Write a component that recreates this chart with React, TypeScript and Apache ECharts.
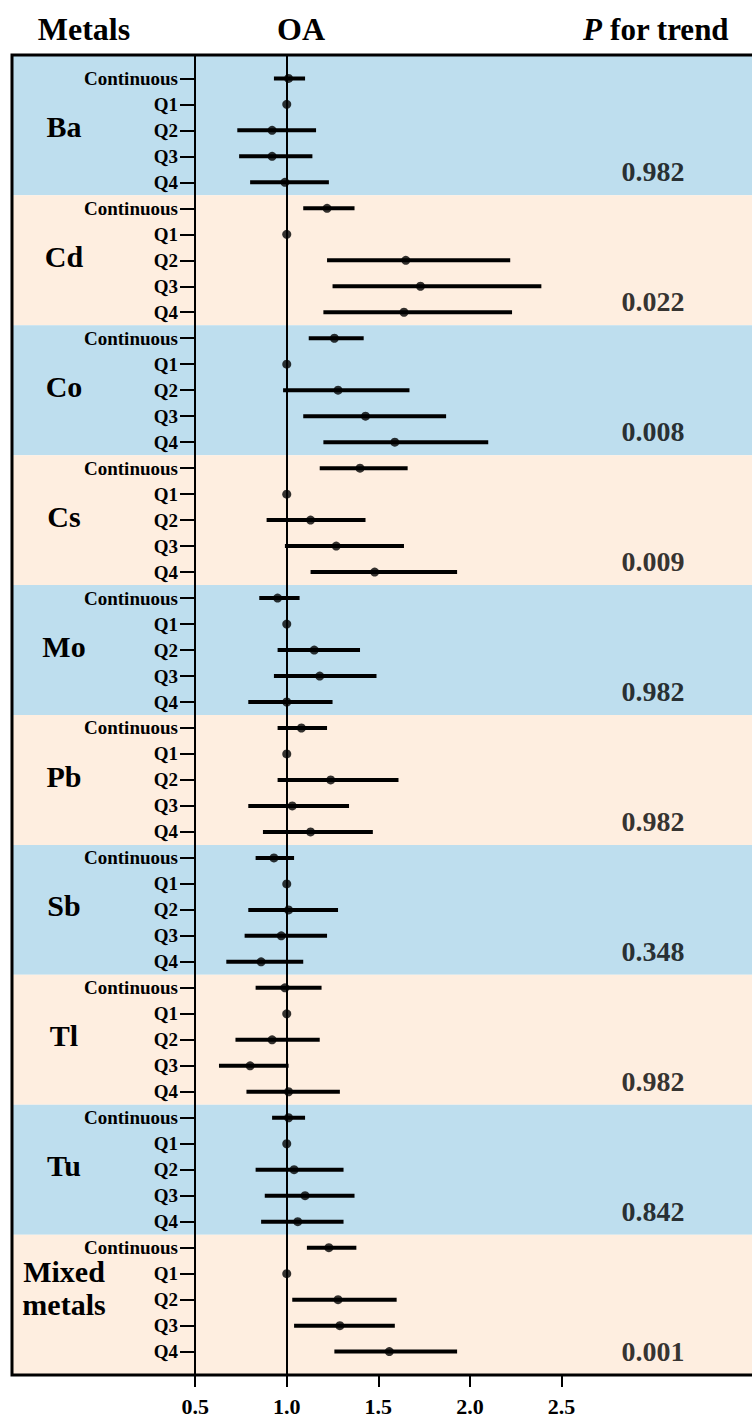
import React, { useEffect, useRef } from 'react';
import * as echarts from 'echarts';

const groups = ['Ba', 'Cd', 'Co', 'Cs', 'Mo', 'Pb', 'Sb', 'Tl', 'Tu', 'Mixed\nmetals'];
const levels = ['Continuous', 'Q1', 'Q2', 'Q3', 'Q4'];

const estimates = [
  [1.01, 1.0, 0.92, 0.92, 0.99],
  [1.22, 1.0, 1.65, 1.73, 1.64],
  [1.26, 1.0, 1.28, 1.43, 1.59],
  [1.40, 1.0, 1.13, 1.27, 1.48],
  [0.95, 1.0, 1.15, 1.18, 1.0],
  [1.08, 1.0, 1.24, 1.03, 1.13],
  [0.93, 1.0, 1.01, 0.97, 0.86],
  [0.99, 1.0, 0.92, 0.80, 1.01],
  [1.01, 1.0, 1.04, 1.10, 1.06],
  [1.23, 1.0, 1.28, 1.29, 1.56],
];
const lowerCI = [
  [0.93, 1.0, 0.73, 0.74, 0.80],
  [1.09, 1.0, 1.22, 1.25, 1.20],
  [1.12, 1.0, 0.98, 1.09, 1.20],
  [1.18, 1.0, 0.89, 0.99, 1.13],
  [0.85, 1.0, 0.95, 0.93, 0.79],
  [0.95, 1.0, 0.95, 0.79, 0.87],
  [0.83, 1.0, 0.79, 0.77, 0.67],
  [0.83, 1.0, 0.72, 0.63, 0.78],
  [0.92, 1.0, 0.83, 0.88, 0.86],
  [1.11, 1.0, 1.03, 1.04, 1.26],
];
const upperCI = [
  [1.10, 1.0, 1.16, 1.14, 1.23],
  [1.37, 1.0, 2.22, 2.39, 2.23],
  [1.42, 1.0, 1.67, 1.87, 2.10],
  [1.66, 1.0, 1.43, 1.64, 1.93],
  [1.07, 1.0, 1.40, 1.49, 1.25],
  [1.22, 1.0, 1.61, 1.34, 1.47],
  [1.04, 1.0, 1.28, 1.22, 1.09],
  [1.19, 1.0, 1.18, 1.01, 1.29],
  [1.10, 1.0, 1.31, 1.37, 1.31],
  [1.38, 1.0, 1.60, 1.59, 1.93],
];
const pTrend = ['0.982', '0.022', '0.008', '0.009', '0.982', '0.982', '0.348', '0.982', '0.842', '0.001'];
const xTicks = [0.5, 1.0, 1.5, 2.0, 2.5];

// layout constants
const Y_MIN = -0.9;
const Y_MAX = 49.9;
const P_X = 3.0;
const FONT = '"Liberation Serif", "Times New Roman", serif';
const BLUE = '#BEDEEE';
const PEACH = '#FEEEE0';

export default function App() {
  const ref = useRef<HTMLDivElement>(null);
  useEffect(() => {
    if (!ref.current) return;
    const chart = echarts.init(ref.current, undefined, { renderer: 'svg' });
    const nLev = levels.length;
    const rowPos: number[] = [];
    const ciData: number[][] = [];
    const estData: number[][] = [];
    groups.forEach((g, gi) => {
      levels.forEach((l, li) => {
        const r = gi * nLev + li;
        rowPos.push(r);
        ciData.push([lowerCI[gi][li], upperCI[gi][li], r]);
        estData.push([estimates[gi][li], r]);
      });
    });
    const groupLabelRows = groups.map((g, gi) => (gi === groups.length - 1 ? gi * nLev + 1.55 : gi * nLev + 1.85));
    const pData = groups.map((g, gi) => [P_X, gi * nLev + (gi === groups.length - 1 ? 4.0 : 3.6)]);
    const bands = groups.map((g, gi) => [
      { yAxis: gi === 0 ? Y_MIN : gi * nLev - 0.5, itemStyle: { color: gi % 2 === 0 ? BLUE : PEACH } },
      { yAxis: gi === groups.length - 1 ? Y_MAX : gi * nLev + nLev - 0.5 },
    ]);

    const option: any = {
      animation: false,
      grid: { left: 12, right: 0, top: 55, bottom: 43, containLabel: false },
      xAxis: {
        type: 'value',
        z: 10,
        min: -0.5,
        max: 3.54,
        position: 'bottom',
        axisLine: { show: false, onZero: false },
        axisTick: { show: true, customValues: xTicks, length: 12, lineStyle: { color: '#000', width: 2 } },
        axisLabel: {
          customValues: xTicks,
          formatter: (v: number) => v.toFixed(1),
          margin: 20,
          fontSize: 22,
          fontWeight: 'bold',
          fontFamily: FONT,
          color: '#000',
        },
        splitLine: { show: false },
      },
      yAxis: [
        {
          type: 'value',
          z: 10,
          inverse: true,
          min: Y_MIN,
          max: Y_MAX,
          position: 'left',
          offset: -183,
          axisLine: { show: true, onZero: false, lineStyle: { color: '#000', width: 2 } },
          axisTick: { show: true, customValues: rowPos, length: 15, lineStyle: { color: '#000', width: 2 } },
          axisLabel: {
            customValues: rowPos,
            formatter: (v: number) => levels[Math.round(v) % nLev],
            margin: 17,
            fontSize: 19,
            fontWeight: 'bold',
            fontFamily: FONT,
            color: '#000',
          },
          splitLine: { show: false },
        },
        {
          type: 'value',
          z: 10,
          inverse: true,
          min: Y_MIN,
          max: Y_MAX,
          position: 'left',
          offset: -52,
          axisLine: { show: false, onZero: false },
          axisTick: { show: false },
          axisLabel: {
            customValues: groupLabelRows,
            formatter: (v: number) => {
              const i = groupLabelRows.findIndex((x) => Math.abs(x - v) < 1e-6);
              return i >= 0 ? groups[i] : '';
            },
            align: 'center',
            margin: 0,
            fontSize: 30,
            lineHeight: 33,
            fontWeight: 'bold',
            fontFamily: FONT,
            color: '#000',
          },
          splitLine: { show: false },
        },
      ],
      series: [
        {
          type: 'scatter',
          name: 'bands',
          z: 1,
          silent: true,
          symbolSize: 0,
          data: [[1, 0]],
          markArea: { silent: true, data: bands },
        },
        {
          type: 'custom',
          name: 'ci',
          z: 3,
          silent: true,
          encode: { x: [0, 1], y: 2 },
          data: ciData,
          renderItem: (params: any, api: any) => {
            const p1 = api.coord([api.value(0), api.value(2)]);
            const p2 = api.coord([api.value(1), api.value(2)]);
            return {
              type: 'line',
              shape: { x1: p1[0], y1: p1[1], x2: p2[0], y2: p2[1] },
              style: { stroke: '#000', lineWidth: 4 },
            };
          },
          markLine: {
            silent: true,
            symbol: 'none',
            label: { show: false },
            lineStyle: { color: '#000', width: 2, type: 'solid' },
            data: [{ xAxis: 1 }],
          },
        },
        {
          type: 'scatter',
          name: 'est',
          z: 4,
          silent: true,
          symbol: 'circle',
          symbolSize: 9,
          itemStyle: { color: '#000' },
          data: estData,
        },
        {
          type: 'scatter',
          name: 'p',
          z: 5,
          silent: true,
          symbolSize: 0,
          data: pData,
          label: {
            show: true,
            position: 'inside',
            formatter: (p: any) => pTrend[p.dataIndex],
            fontSize: 28,
            fontWeight: 'bold',
            fontFamily: FONT,
            color: '#000',
          },
        },
      ],
      graphic: [
        {
          type: 'rect',
          z: 100,
          silent: true,
          shape: { x: 12, y: 55, width: 750, height: 1320 },
          style: { fill: 'none', stroke: '#000', lineWidth: 3 },
        },
        {
          type: 'text',
          x: 84,
          y: 29,
          z: 100,
          style: { text: 'Metals', fontSize: 32, fontWeight: 'bold', fontFamily: FONT, fill: '#000', align: 'center', verticalAlign: 'middle' },
        },
        {
          type: 'text',
          x: 301,
          y: 29,
          z: 100,
          style: { text: 'OA', fontSize: 32, fontWeight: 'bold', fontFamily: FONT, fill: '#000', align: 'center', verticalAlign: 'middle' },
        },
        {
          type: 'text',
          x: 656,
          y: 29,
          z: 100,
          style: {
            text: '{i|P} for trend',
            fontSize: 31,
            fontWeight: 'bold',
            fontFamily: FONT,
            fill: '#000',
            align: 'center',
            verticalAlign: 'middle',
            rich: { i: { fontStyle: 'italic', fontSize: 31, fontWeight: 'bold', fontFamily: FONT, fill: '#000' } },
          },
        },
      ],
    };
    chart.setOption(option);
    return () => chart.dispose();
  }, []);
  return <div ref={ref} style={{ position: 'absolute', left: 0, top: 0, width: 752, height: 1418 }} />;
}
